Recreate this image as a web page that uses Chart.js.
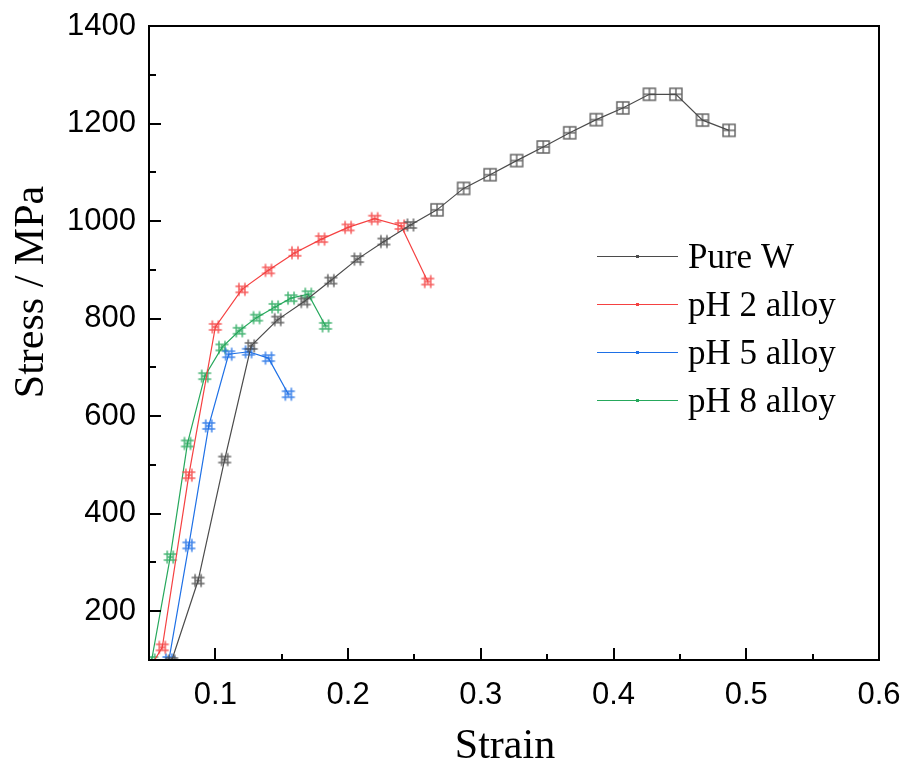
<!DOCTYPE html>
<html><head><meta charset="utf-8">
<script src="https://cdn.jsdelivr.net/npm/chart.js@4/dist/chart.umd.min.js"></script>
<style>html,body{margin:0;padding:0;background:#fff}#wrap{width:905px;height:767px;position:relative}</style>
</head><body><div id="wrap"><canvas id="c" width="905" height="767"></canvas></div>
<script>
// ---------- data ----------
const seriesNames = ['Pure W', 'pH 2 alloy', 'pH 5 alloy', 'pH 8 alloy'];

const pureWStrain = [0.067, 0.087, 0.107, 0.127, 0.147, 0.167, 0.187, 0.207, 0.227, 0.247, 0.267, 0.287, 0.307, 0.327, 0.347, 0.367, 0.387, 0.407, 0.427, 0.447, 0.467, 0.487];
const pureWStress = [98, 263, 511, 744, 798, 835, 878, 922, 958, 992, 1023, 1067, 1095, 1124, 1152, 1181, 1208, 1232, 1260, 1260, 1207, 1186];

const pH2Strain = [0.040, 0.060, 0.080, 0.100, 0.120, 0.140, 0.160, 0.180, 0.200, 0.220, 0.240, 0.260];
const pH2Stress = [36, 126, 479, 783, 860, 899, 935, 963, 987, 1005, 990, 876];

const pH5Strain = [0.065, 0.080, 0.095, 0.110, 0.125, 0.140, 0.155];
const pH5Stress = [100, 335, 580, 727, 732, 719, 645];

const pH8Strain = [0.052, 0.066, 0.079, 0.092, 0.105, 0.118, 0.131, 0.145, 0.157, 0.170, 0.183];
const pH8Stress = [100, 311, 544, 682, 741, 775, 802, 824, 842, 850, 785];

const xTickValues = [0.1, 0.2, 0.3, 0.4, 0.5, 0.6];
const xMinorTickValues = [0.05, 0.15, 0.25, 0.35, 0.45, 0.55];
const yTickValues = [200, 400, 600, 800, 1000, 1200, 1400];
const yMinorTickValues = [100, 300, 500, 700, 900, 1100, 1300];

const xTitle = 'Strain';
const yTitle = 'Stress / MPa';

// ---------- styles ----------
const colors = ['rgb(75,75,75)', 'rgb(245,65,65)', 'rgb(30,112,230)', 'rgb(38,168,92)'];
const TICK_FONT = '"Liberation Sans", Arial, sans-serif';
const SERIF = '"Liberation Serif", "Times New Roman", serif';

function makeMarker(color, kind) {
  const s = 18, m = 9;
  const c = document.createElement('canvas'); c.width = s; c.height = s;
  const g = c.getContext('2d');
  g.strokeStyle = color; g.lineWidth = 1.5; g.globalAlpha = 0.85;
  g.beginPath();
  if (kind === 'box') {
    g.rect(m - 6, m - 6, 12, 12);
    g.moveTo(m - 6, m); g.lineTo(m + 6, m);
    g.moveTo(m, m - 6); g.lineTo(m, m + 6);
  } else {
    g.moveTo(m - 6.5, m - 3); g.lineTo(m + 6.5, m - 3);
    g.moveTo(m - 6.5, m + 3); g.lineTo(m + 6.5, m + 3);
    g.moveTo(m - 3, m - 6.5); g.lineTo(m - 3, m + 6.5);
    g.moveTo(m + 3, m - 6.5); g.lineTo(m + 3, m + 6.5);
    g.moveTo(m - 3, m); g.lineTo(m + 3, m);
    g.moveTo(m, m - 3); g.lineTo(m, m + 3);
  }
  g.stroke();
  return c;
}

const hashMarkers = colors.map(c => makeMarker(c, 'hash'));
const boxMarkerBlack = makeMarker(colors[0], 'box');

function pts(xs, ys) { return xs.map((x, i) => ({ x: x, y: ys[i] })); }

const datasets = [
  { label: seriesNames[0], data: pts(pureWStrain, pureWStress), borderColor: colors[0],
    pointStyle: ctx => (ctx.raw && ctx.raw.x >= 0.26 ? boxMarkerBlack : hashMarkers[0]) },
  { label: seriesNames[1], data: pts(pH2Strain, pH2Stress), borderColor: colors[1], pointStyle: hashMarkers[1] },
  { label: seriesNames[2], data: pts(pH5Strain, pH5Stress), borderColor: colors[2], pointStyle: hashMarkers[2] },
  { label: seriesNames[3], data: pts(pH8Strain, pH8Stress), borderColor: colors[3], pointStyle: hashMarkers[3] }
].map(d => Object.assign(d, { borderWidth: 1.2, tension: 0, fill: false, pointRadius: 6 }));

const frameTicksPlugin = {
  id: 'frameTicks',
  afterDatasetsDraw(chart) {
    const { ctx, chartArea: a, scales: { x, y } } = chart;
    ctx.save();
    ctx.strokeStyle = '#000';
    ctx.lineWidth = 2;
    ctx.strokeRect(a.left, a.top, a.right - a.left, a.bottom - a.top);
    ctx.beginPath();
    xTickValues.forEach(v => { const px = Math.round(x.getPixelForValue(v)); ctx.moveTo(px, a.bottom); ctx.lineTo(px, a.bottom - 12); });
    xMinorTickValues.forEach(v => { const px = Math.round(x.getPixelForValue(v)); ctx.moveTo(px, a.bottom); ctx.lineTo(px, a.bottom - 6); });
    yTickValues.forEach(v => { const py = Math.round(y.getPixelForValue(v)); ctx.moveTo(a.left, py); ctx.lineTo(a.left + 12, py); });
    yMinorTickValues.forEach(v => { const py = Math.round(y.getPixelForValue(v)); ctx.moveTo(a.left, py); ctx.lineTo(a.left + 7, py); });
    ctx.stroke();
    ctx.restore();
  },
  afterDraw(chart) {
    const { ctx } = chart;
    ctx.save();
    ctx.fillStyle = '#000';
    // axis titles
    ctx.font = '42px ' + SERIF;
    ctx.textAlign = 'center';
    ctx.textBaseline = 'alphabetic';
    ctx.fillText(xTitle, 505, 758);
    ctx.save();
    ctx.translate(43, 292);
    ctx.rotate(-Math.PI / 2);
    ctx.fillText(yTitle, 0, 0);
    ctx.restore();
    // legend
    const rows = [256, 304, 352, 400];
    chart.data.datasets.forEach((d, i) => {
      const yy = rows[i];
      ctx.strokeStyle = d.borderColor;
      ctx.lineWidth = 1.2;
      ctx.beginPath(); ctx.moveTo(597, yy + 0.5); ctx.lineTo(678, yy + 0.5); ctx.stroke();
      ctx.fillStyle = d.borderColor;
      ctx.fillRect(636, yy - 1, 3, 3);
      ctx.fillStyle = '#000';
      ctx.font = '35px ' + SERIF;
      ctx.textAlign = 'left';
      ctx.textBaseline = 'alphabetic';
      ctx.fillText(d.label, 688, yy + 12);
    });
    ctx.restore();
  }
};

function zeroPad(s) { s.paddingLeft = 0; s.paddingRight = 0; s.paddingTop = 0; s.paddingBottom = 0; }

new Chart(document.getElementById('c'), {
  type: 'line',
  data: { datasets },
  options: {
    responsive: false,
    animation: false,
    devicePixelRatio: 1,
    layout: { padding: { left: 0, right: 26, top: 26, bottom: 0 } },
    plugins: { legend: { display: false }, tooltip: { enabled: false } },
    scales: {
      x: {
        type: 'linear', min: 0.05, max: 0.6,
        afterBuildTicks: s => { s.ticks = xTickValues.map(v => ({ value: v })); },
        afterFit: s => { s.height = 107; zeroPad(s); },
        grid: { display: false, drawTicks: false },
        border: { display: false },
        ticks: { color: '#000', padding: 17, maxRotation: 0, font: { family: TICK_FONT, size: 31 },
          callback: v => String(Math.round(v * 10) / 10) }
      },
      y: {
        type: 'linear', min: 100, max: 1400,
        afterBuildTicks: s => { s.ticks = yTickValues.map(v => ({ value: v })); },
        afterFit: s => { s.width = 149; zeroPad(s); },
        grid: { display: false, drawTicks: false },
        border: { display: false },
        ticks: { color: '#000', padding: 13, font: { family: TICK_FONT, size: 31 },
          callback: v => String(v) }
      }
    }
  },
  plugins: [frameTicksPlugin]
});
</script>
</body></html>
